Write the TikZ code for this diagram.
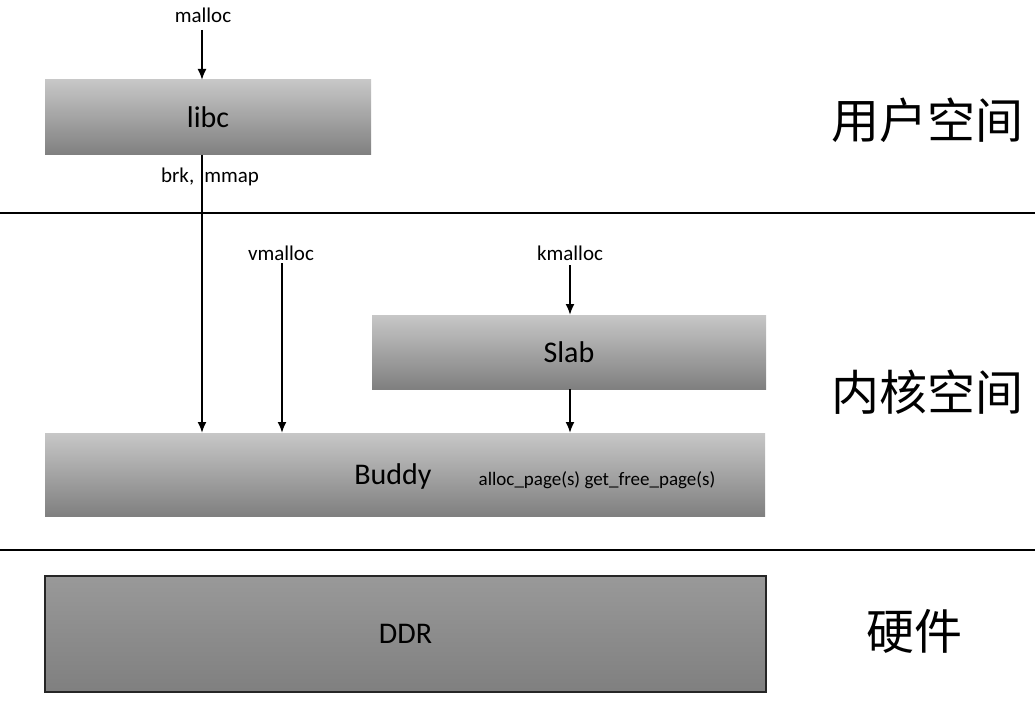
\documentclass[tikz,border=0pt]{standalone}
\usepackage{fontspec}
\setmainfont{Carlito}
\newfontfamily\cjk{Noto Sans CJK SC}
\usetikzlibrary{arrows.meta}
\begin{document}
\begin{tikzpicture}[x=1pt,y=1pt,
  gbox/.style={rectangle, inner sep=0pt, top color=black!22, bottom color=black!50, font=\fontsize{30}{32}\selectfont},
  ddrbox/.style={rectangle, inner sep=0pt, draw=black!85, line width=1.5pt, top color=black!40, bottom color=black!50, font=\fontsize{30}{32}\selectfont},
  lbl/.style={inner sep=0pt, font=\fontsize{21}{23}\selectfont},
  zone/.style={inner sep=0pt, font=\cjk\fontsize{48}{50}\selectfont},
  arr/.style={line width=1.9pt, -{Latex[length=11pt,width=9pt]}},
  sep/.style={line width=2pt}]
\useasboundingbox (0,0) rectangle (1035,-703);
% separators
\coordinate (s1l) at (0,-213); \coordinate (s1r) at (1035,-213);
\coordinate (s2l) at (0,-550); \coordinate (s2r) at (1035,-550);
\draw[sep] (s1l) -- (s1r);
\draw[sep] (s2l) -- (s2r);
% boxes
\node[gbox, minimum width=326pt, minimum height=75pt] (libc) at (208,-117.5) {libc};
\node[gbox, minimum width=394pt, minimum height=74pt] (slab) at (569,-352) {Slab};
\node[gbox, minimum width=720pt, minimum height=83pt] (buddy) at (405,-474.5) {};
\node[ddrbox, minimum width=721pt, minimum height=116pt] (ddr) at (405.5,-634) {DDR};
\node[inner sep=0pt, font=\fontsize{30}{32}\selectfont] (buddyt) at (393,-476) {Buddy};
\node[lbl, font=\fontsize{19}{21}\selectfont] (pages) at (597,-480) {alloc\_page(s) get\_free\_page(s)};
% labels
\node[lbl] (malloc) at (203,-15) {malloc};
\node[lbl] (brk) at (210,-177) {brk,\hspace{10pt}mmap};
\node[lbl] (vmalloc) at (281,-253) {vmalloc};
\node[lbl] (kmalloc) at (570,-253) {kmalloc};
\node[zone] (us) at (927,-120) {用户空间};
\node[zone] (ks) at (927,-392) {内核空间};
\node[zone] (hw) at (914,-631) {硬件};
% arrows
\coordinate (libcb) at (202,-155);
\coordinate (bud1) at (202,-433);
\coordinate (vm) at (282,-263);
\coordinate (bud2) at (282,-433);
\coordinate (slabb) at (570,-389);
\coordinate (bud3) at (570,-433);
\coordinate (km) at (570,-265);
\coordinate (slabt) at (570,-315);
\coordinate (mal) at (202,-30);
\coordinate (libct) at (202,-80);
\draw[arr] (mal) -- (libct);
\draw[arr] (libcb) -- (bud1);
\draw[arr] (vm) -- (bud2);
\draw[arr] (km) -- (slabt);
\draw[arr] (slabb) -- (bud3);
\end{tikzpicture}
\end{document}
